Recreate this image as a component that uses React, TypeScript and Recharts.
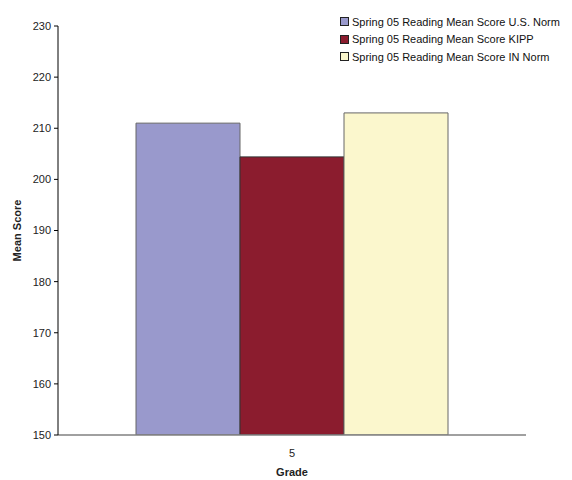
import React from 'react';
import { BarChart, Bar, XAxis, YAxis, Legend } from 'recharts';

const grades = ['5'];
const usNorm = [211];
const kipp = [204.4];
const inNorm = [213];
const yTicks = [150, 160, 170, 180, 190, 200, 210, 220, 230];

const seriesNames = [
    'Spring 05 Reading Mean Score U.S. Norm',
    'Spring 05 Reading Mean Score KIPP',
    'Spring 05 Reading Mean Score IN Norm',
];
const seriesColors = ['#9999CC', '#8B1C2E', '#FBF7CD'];

const data = grades.map((g, i) => ({
    grade: g,
    usNorm: usNorm[i],
    kipp: kipp[i],
    inNorm: inNorm[i],
}));

const font = '"Liberation Sans", Arial, sans-serif';

const LegendBox = () => (
    <div style={{ fontFamily: font, fontSize: 11, color: '#111' }}>
        {seriesNames.map((name, i) => (
            <div key={name} style={{ display: 'flex', alignItems: 'center', height: 17.5 }}>
                <span
                    style={{
                        display: 'inline-block',
                        width: 7,
                        height: 7,
                        background: seriesColors[i],
                        border: '1px solid #222',
                        marginRight: 3,
                    }}
                />
                <span>{name}</span>
            </div>
        ))}
    </div>
);

const App = () => {
    return (
        <div style={{ position: 'absolute', left: 0, top: 0, width: 572, height: 480, background: '#fff' }}>
            <BarChart
                width={572}
                height={480}
                data={data}
                margin={{ top: 26, right: 46, bottom: 0, left: 0 }}
                barCategoryGap={78}
                barGap={0}
            >
                <XAxis
                    dataKey="grade"
                    height={45}
                    axisLine={{ stroke: '#808080', strokeWidth: 1.5 }}
                    tickLine={false}
                    tickMargin={8}
                    tick={{ fontSize: 11, fill: '#222', fontFamily: font }}
                    label={{
                        value: 'Grade',
                        position: 'insideBottom',
                        offset: 4,
                        style: { fontSize: 11, fontWeight: 'bold', fill: '#222', fontFamily: font },
                    }}
                />
                <YAxis
                    width={58}
                    domain={[150, 230]}
                    ticks={yTicks}
                    interval={0}
                    allowDataOverflow
                    axisLine={{ stroke: '#000' }}
                    tickLine={{ stroke: '#000' }}
                    tickSize={4}
                    tickMargin={3}
                    tick={{ fontSize: 11, fill: '#222', fontFamily: font }}
                    label={{
                        value: 'Mean Score',
                        angle: -90,
                        position: 'insideLeft',
                        offset: 17,
                        style: { textAnchor: 'middle', fontSize: 11, fontWeight: 'bold', fill: '#222', fontFamily: font },
                    }}
                />
                <Legend
                    layout="vertical"
                    align="center"
                    verticalAlign="middle"
                    content={() => <LegendBox />}
                    wrapperStyle={{ top: 13, left: 340, width: 230 }}
                />
                <Bar dataKey="usNorm" name={seriesNames[0]} fill={seriesColors[0]} stroke="#666" strokeWidth={1} isAnimationActive={false} />
                <Bar dataKey="kipp" name={seriesNames[1]} fill={seriesColors[1]} stroke="#333" strokeWidth={1} isAnimationActive={false} />
                <Bar dataKey="inNorm" name={seriesNames[2]} fill={seriesColors[2]} stroke="#666" strokeWidth={1} isAnimationActive={false} />
            </BarChart>
        </div>
    );
};

export default App;
